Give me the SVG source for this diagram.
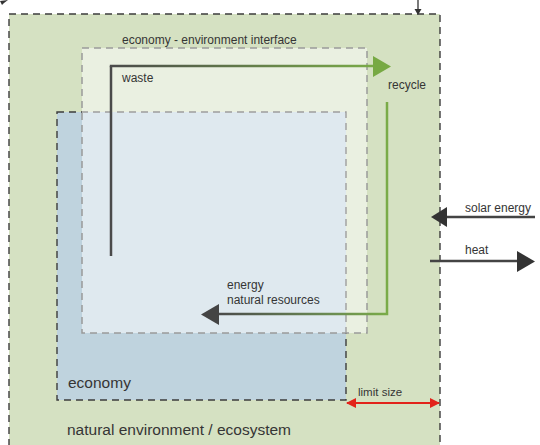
<svg xmlns="http://www.w3.org/2000/svg" width="540" height="445" viewBox="0 0 540 445">
  <style>
    text { font-family: "Liberation Sans", Arial, sans-serif; fill: #353535; }
    .small { font-size: 12px; }
    .big { font-size: 15.5px; }
    .dark-dash { stroke: #3c3c3c; stroke-width: 1.4; stroke-dasharray: 7 5; fill: none; }
    .grey-dash { stroke: #9a9a9a; stroke-width: 1.5; stroke-dasharray: 7 5; fill: none; }
    .flow { fill: none; stroke-width: 2.5; }
  </style>
  <defs>
    <linearGradient id="gradWaste" gradientUnits="userSpaceOnUse" x1="111" y1="0" x2="375" y2="0">
      <stop offset="0" stop-color="#4a4a4a"/>
      <stop offset="1" stop-color="#7aab48"/>
    </linearGradient>
    <linearGradient id="gradReturn" gradientUnits="userSpaceOnUse" x1="387" y1="0" x2="218" y2="0">
      <stop offset="0" stop-color="#7aab48"/>
      <stop offset="0.35" stop-color="#6a8a52"/>
      <stop offset="1" stop-color="#4a4a4a"/>
    </linearGradient>
    <marker id="redHead" viewBox="0 0 10 10" refX="9" refY="5" markerWidth="5" markerHeight="5" orient="auto-start-reverse">
      <path d="M0,0 L10,5 L0,10 Z" fill="#e2231a"/>
    </marker>
  </defs>

  <!-- natural environment / ecosystem -->
  <g id="ecosystem">
    <rect x="9" y="14" width="431" height="445" fill="#d5e1c2"/>
    <rect x="9" y="14" width="431" height="445" class="dark-dash"/>
    <text x="67" y="435" class="big">natural environment / ecosystem</text>
  </g>

  <!-- economy -->
  <g id="economy">
    <rect x="57" y="112" width="289" height="288" fill="#bfd3de"/>
    <rect x="57" y="112" width="289" height="288" class="dark-dash"/>
    <text x="68" y="388" class="big">economy</text>
  </g>

  <!-- economy - environment interface (translucent overlay) -->
  <g id="interface">
    <rect x="82" y="48" width="285" height="285" fill="#ffffff" fill-opacity="0.5"/>
    <rect x="82" y="48" width="285" height="285" class="grey-dash"/>
    <text x="122" y="44" class="small">economy - environment interface</text>
  </g>

  <g id="labels">
    <text x="122" y="82" class="small">waste</text>
    <text x="388" y="89" class="small">recycle</text>
    <text x="227" y="289" class="small">energy</text>
    <text x="227" y="304" class="small">natural resources</text>
    <text x="465" y="212" class="small">solar energy</text>
    <text x="465" y="254" class="small">heat</text>
    <text x="358" y="396" class="small" style="font-size:11.5px">limit size</text>
  </g>

  <g id="connectors">
    <!-- waste flow -->
    <path d="M111,256 L111,66" class="flow" stroke="#4a4a4a"/>
    <path d="M109.8,66 L375,66" class="flow" stroke="url(#gradWaste)"/>
    <polygon points="373,56 391,66.5 373,77" fill="#77a943"/>
    <!-- recycle / resources return -->
    <path d="M387,102 L387,314 L217,314" class="flow" stroke="url(#gradReturn)"/>
    <polygon points="219,304 201,314.5 219,325" fill="#444444"/>
    <!-- solar energy in -->
    <path d="M535,217 L444,217" class="flow" stroke="#444444"/>
    <polygon points="447,207 431,217 447,227" fill="#333333"/>
    <!-- heat out -->
    <path d="M430,261 L519,261" class="flow" stroke="#444444"/>
    <polygon points="517,251 535,261.5 517,272" fill="#333333"/>
    <!-- limit size -->
    <line x1="347" y1="403" x2="439" y2="403" stroke="#e2231a" stroke-width="2" marker-start="url(#redHead)" marker-end="url(#redHead)"/>
    <!-- arrows entering from outside -->
    <line x1="418" y1="0" x2="418" y2="10" stroke="#333333" stroke-width="1.3"/>
    <polygon points="414.5,9 421.5,9 418,15" fill="#333333"/>
    <polygon points="0,1 8,0 4,3 2,5" fill="#333333"/>
  </g>
</svg>
